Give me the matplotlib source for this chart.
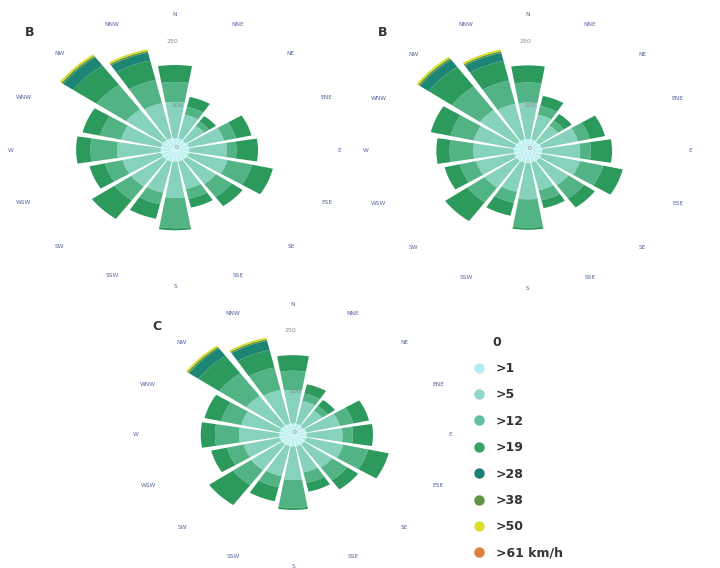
import numpy as np
import matplotlib
matplotlib.use("Agg")
import matplotlib.pyplot as plt
from matplotlib.lines import Line2D

directions = ["N", "NNE", "NE", "ENE", "E", "ESE", "SE", "SSE",
              "S", "SSW", "SW", "WSW", "W", "WNW", "NW", "NNW"]
speed_classes = [">1", ">5", ">12", ">19", ">28", ">38", ">50", ">61 km/h"]
class_colors = ["#bff0f0", "#86d2bc", "#52b484", "#2c9a5c",
                "#1d8573", "#5e9445", "#d8df2a", "#e07e42"]
legend_colors = ["#b6ecf0", "#8fd6cb", "#5fc29d", "#39a066",
                 "#1e7f74", "#5e9445", "#dadf2c", "#e07e42"]
radial_ticks = [0, 100, 250]

# Panel B (left)
bl_gt1 = [28, 28, 26, 28, 28, 28, 28, 28, 28, 28, 28, 28, 28, 28, 28, 28]
bl_gt5 = [85, 57, 44, 70, 73, 77, 70, 66, 85, 75, 77, 77, 85, 80, 89, 85]
bl_gt12 = [47, 19, 12, 24, 19, 49, 38, 24, 71, 28, 40, 35, 52, 42, 71, 56]
bl_gt19 = [40, 24, 16, 31, 42, 42, 26, 21, 5, 35, 54, 31, 28, 35, 56, 47]
bl_gt28 = [0, 0, 0, 0, 0, 0, 0, 0, 0, 0, 0, 0, 0, 0, 24, 19]
bl_gt38 = [0, 0, 0, 0, 0, 0, 0, 0, 0, 0, 0, 0, 0, 0, 4, 4]
bl_gt50 = [0, 0, 0, 0, 0, 0, 0, 0, 0, 0, 0, 0, 0, 0, 4, 4]
bl_gt61 = [0, 0, 0, 0, 0, 0, 0, 0, 0, 0, 0, 0, 0, 0, 0, 0]

# Panel B (right)
br_gt1 = [28, 28, 26, 28, 28, 28, 28, 28, 28, 28, 28, 28, 28, 28, 28, 28]
br_gt5 = [85, 59, 47, 73, 75, 77, 70, 66, 85, 70, 77, 77, 80, 82, 89, 85]
br_gt12 = [47, 21, 14, 24, 21, 47, 38, 24, 66, 26, 42, 33, 47, 47, 68, 56]
br_gt19 = [40, 24, 19, 31, 42, 40, 26, 19, 5, 31, 54, 31, 26, 40, 56, 47]
br_gt28 = [0, 0, 0, 0, 0, 0, 0, 0, 0, 0, 0, 0, 0, 0, 21, 19]
br_gt38 = [0, 0, 0, 0, 0, 0, 0, 0, 0, 0, 0, 0, 0, 0, 4, 4]
br_gt50 = [0, 0, 0, 0, 0, 0, 0, 0, 0, 0, 0, 0, 0, 0, 4, 4]
br_gt61 = [0, 0, 0, 0, 0, 0, 0, 0, 0, 0, 0, 0, 0, 0, 0, 0]

# Panel C
c_gt1 = [28, 28, 26, 28, 28, 28, 28, 28, 28, 28, 28, 28, 28, 28, 28, 28]
c_gt5 = [82, 57, 47, 70, 73, 77, 70, 66, 82, 75, 77, 75, 82, 80, 89, 85]
c_gt12 = [47, 19, 14, 28, 21, 52, 38, 26, 68, 28, 45, 35, 49, 42, 68, 56]
c_gt19 = [38, 23, 18, 33, 41, 43, 27, 22, 5, 35, 60, 33, 29, 35, 52, 44]
c_gt28 = [0, 0, 0, 0, 0, 0, 0, 0, 0, 0, 0, 0, 0, 0, 23, 23]
c_gt38 = [0, 0, 0, 0, 0, 0, 0, 0, 0, 0, 0, 0, 0, 0, 4, 4]
c_gt50 = [0, 0, 0, 0, 0, 0, 0, 0, 0, 0, 0, 0, 0, 0, 4, 4]
c_gt61 = [0, 0, 0, 0, 0, 0, 0, 0, 0, 0, 0, 0, 0, 0, 0, 0]

panels = [
    ("B", [bl_gt1, bl_gt5, bl_gt12, bl_gt19, bl_gt28, bl_gt38, bl_gt50, bl_gt61],
     [11, 282, 328, 272], (30, 32)),
    ("B", [br_gt1, br_gt5, br_gt12, br_gt19, br_gt28, br_gt38, br_gt50, br_gt61],
     [366, 280, 324, 274], (383, 33)),
    ("C", [c_gt1, c_gt5, c_gt12, c_gt19, c_gt28, c_gt38, c_gt50, c_gt61],
     [136, 2, 314, 262], (157, 327)),
]

W, H = 720, 568
RMAX = 320
fig = plt.figure(figsize=(W / 100, H / 100), dpi=100)
fig.patch.set_facecolor("white")

n = len(directions)
theta = np.arange(n) * 2 * np.pi / n
width = 2 * np.pi / n * 0.85

for letter, series, rect, lpos in panels:
    l, b, w, h = rect
    ax = fig.add_axes([l / W, b / H, w / W, h / H], projection="polar")
    ax.set_aspect("auto")
    ax.set_theta_zero_location("N")
    ax.set_theta_direction(-1)
    bottom = np.zeros(n)
    for vals, col in zip(series, class_colors):
        vals = np.asarray(vals, dtype=float)
        ax.bar(theta, vals, width=width, bottom=bottom, color=col,
               edgecolor="none", linewidth=0, align="center")
        bottom += vals
    ax.set_ylim(0, RMAX)
    ax.set_xticks([])
    ax.set_yticks(radial_ticks)
    ax.set_yticklabels([str(t) for t in radial_ticks], fontsize=4.5,
                       color="#8a8a8a")
    ax.set_rlabel_position(-4)
    ax.grid(False)
    ax.spines["polar"].set_visible(False)
    ax.patch.set_alpha(0)
    for t, name in zip(theta, directions):
        ax.text(t, RMAX, name, ha="center", va="center", fontsize=4.2,
                color="#5566a0", clip_on=False)
    fig.text(lpos[0] / W, 1 - lpos[1] / H, letter, ha="center", va="center",
             fontsize=9, fontweight="bold", color="#333333")

handles = [Line2D([], [], marker="o", linestyle="none", markersize=7.5,
                  markerfacecolor=c, markeredgecolor="none")
           for c in legend_colors]
fig.legend(handles, speed_classes, loc="upper left",
           bbox_to_anchor=(473 / W, 1 - 362 / H), frameon=False,
           prop={"size": 9, "weight": "bold", "family": "DejaVu Sans"},
           labelspacing=1.07, handlelength=1.0, handletextpad=0.8,
           borderaxespad=0, borderpad=0, labelcolor="#333333")
fig.text(497 / W, 1 - 343 / H, "0", ha="center", va="center", fontsize=9,
         fontweight="bold", color="#333333")

fig.savefig("out.png", dpi=100, facecolor="white")
